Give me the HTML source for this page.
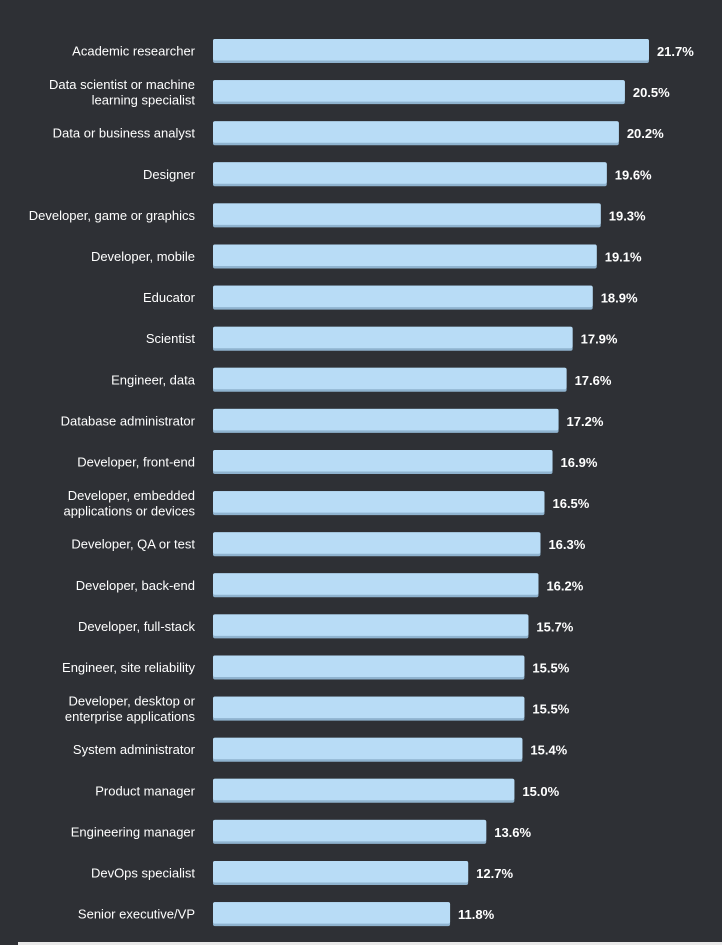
<!DOCTYPE html>
<html><head><meta charset="utf-8"><style>
body{margin:0;background:#2e3035;}
svg{display:block}
text{font-family:"Liberation Sans",sans-serif;fill:#fff}
</style></head><body>
<svg id="c" width="722" height="945">
<rect x="0" y="0" width="722" height="945" fill="#2e3035"/>
<rect x="18" y="942" width="704" height="3" fill="#e8e8e8"/>
</svg>
<script>
const categories=["Academic researcher","Data scientist or machine|learning specialist","Data or business analyst","Designer","Developer, game or graphics","Developer, mobile","Educator","Scientist","Engineer, data","Database administrator","Developer, front-end","Developer, embedded|applications or devices","Developer, QA or test","Developer, back-end","Developer, full-stack","Engineer, site reliability","Developer, desktop or|enterprise applications","System administrator","Product manager","Engineering manager","DevOps specialist","Senior executive/VP"];
const values=[21.7,20.5,20.2,19.6,19.3,19.1,18.9,17.9,17.6,17.2,16.9,16.5,16.3,16.2,15.7,15.5,15.5,15.4,15.0,13.6,12.7,11.8];
const svg=document.getElementById('c');
const NS="http://www.w3.org/2000/svg";
const x0=213, pxPer=20.09;
const xs=v=>x0+v*pxPer;
const ys=i=>51+i*41.1;
function mk(t,a){const e=document.createElementNS(NS,t);for(const k in a)e.setAttribute(k,a[k]);svg.appendChild(e);return e;}
categories.forEach((c,i)=>{
  const y=ys(i), v=values[i], w=xs(v)-x0;
  const b=mk('rect',{x:x0,y:y-12,width:w,height:24,rx:2,fill:'#8fb3cf'});
  
  
  const b2=mk('rect',{x:x0,y:y-12,width:w,height:21.5,rx:2,fill:'#b8dcf6'});
  
  
  const lines=c.split('|');
  lines.forEach((l,j)=>{
    const t=mk('text',{x:195,y:y+4.5+(j-(lines.length-1)/2)*15.5,'text-anchor':'end','font-size':'13'});
    t.textContent=l;
    
    
  });
  const vt=mk('text',{x:xs(v)+8,y:y+5,'font-size':'13','font-weight':'bold'});
  vt.textContent=v.toFixed(1)+'%';
  
  
});
</script>
</body></html>
